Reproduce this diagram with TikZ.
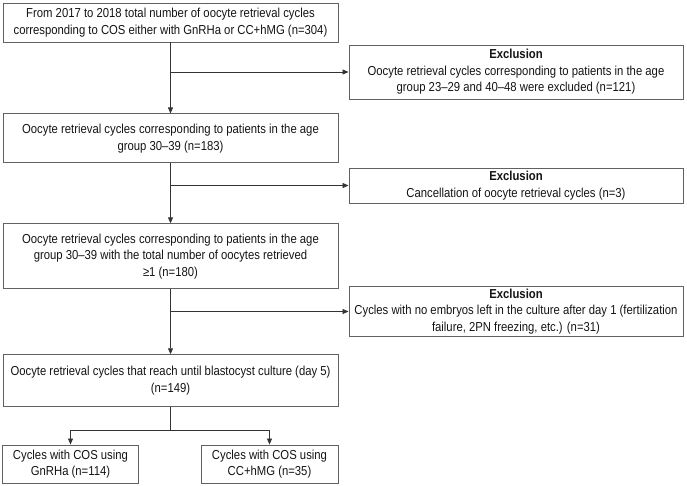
\documentclass[tikz,border=0pt]{standalone}
\usepackage{fontspec}
\newfontfamily\flowfont[FakeStretch=0.87]{Liberation Sans}
\usepackage{tikz}
\usetikzlibrary{arrows.meta,positioning,calc}

\begin{document}
\begin{tikzpicture}[
x=1pt,y=1pt,
box/.style={draw=black!62,line width=0.9pt,minimum width=335pt,align=center,inner sep=2pt,
  font=\flowfont\fontsize{13}{16.5}\selectfont,text=black!92},
excl/.style={box,minimum width=334pt},
arm/.style={box,minimum width=136pt,minimum height=38pt},
t/.style={draw=black!80,line width=0.8pt,-{Triangle[length=6pt,width=5pt]}},
l/.style={draw=black!80,line width=0.8pt}
]
\useasboundingbox (0,0) rectangle (687,-485);

\node[box,minimum height=39pt] (start) at (170.5,-22.5)
  {From 2017 to 2018 total number of oocyte retrieval cycles\\corresponding to COS either with GnRHa or CC+hMG (n=304)};
\node[box,minimum height=49pt,below=71pt of start] (age)
  {Oocyte retrieval cycles corresponding to patients in the age\\group 30–39 (n=183)};
\node[box,minimum height=65pt,below=60pt of age] (retr)
  {Oocyte retrieval cycles corresponding to patients in the age\\group 30–39 with the total number of oocytes retrieved\\≥1 (n=180)};
\node[box,minimum height=52pt,below=65pt of retr] (blast)
  {Oocyte retrieval cycles that reach until blastocyst culture (day 5)\\(n=149)};
\node[arm] (gnrh) at (70.5,-464) {Cycles with COS using\\GnRHa (n=114)};
\node[arm,minimum width=137pt] (cchmg) at (269.5,-464) {Cycles with COS using\\CC+hMG (n=35)};

\node[excl,minimum height=54pt] (exage) at (516,-72)
  {\textbf{Exclusion}\\Oocyte retrieval cycles corresponding to patients in the age\\group 23–29 and 40–48 were excluded (n=121)};
\node[excl,minimum height=35pt] (excanc) at (516,-185.5)
  {\textbf{Exclusion}\\Cancellation of oocyte retrieval cycles (n=3)};
\node[excl,minimum height=49pt] (exemb) at (516,-311.5)
  {\textbf{Exclusion}\\Cycles with no embryos left in the culture after day 1 (fertilization\\failure, 2PN freezing, etc.) (n=31)};

% main flow
\draw[t] (start) -- (age);
\draw[t] (age) -- (retr);
\draw[t] (retr) -- (blast);

% exclusions
\coordinate (j1) at (start.south |- exage.west);
\coordinate (j2) at (age.south |- excanc.west);
\coordinate (j3) at (retr.south |- exemb.west);
\draw[t] (j1) -- (exage);
\draw[t] (j2) -- (excanc);
\draw[t] (j3) -- (exemb);

% split by protocol
\coordinate (split) at ($(blast.south)+(0,-23)$);
\draw[l] (blast) -- (split);
\draw[t] (split) -| (gnrh);
\draw[t] (split) -| (cchmg);
\end{tikzpicture}
\end{document}
